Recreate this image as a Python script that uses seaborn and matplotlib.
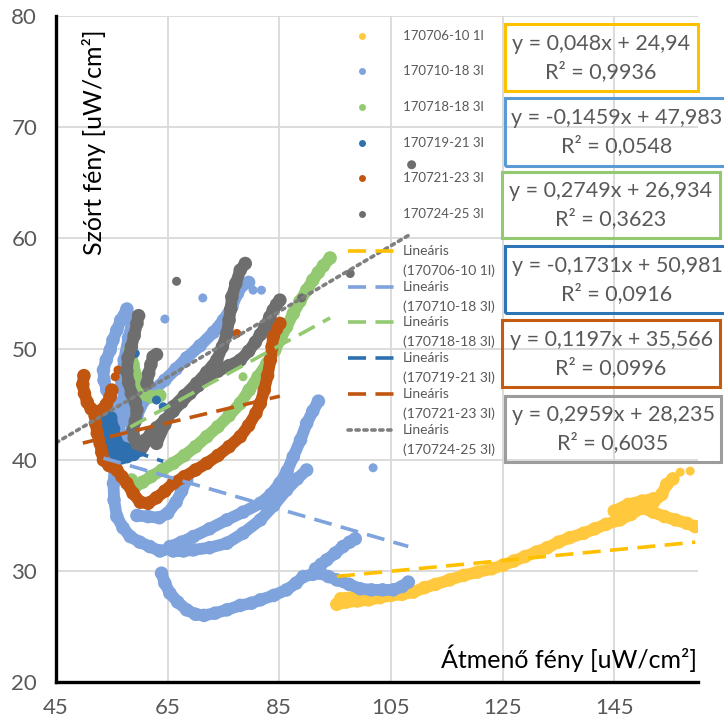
import numpy as np
import pandas as pd
import matplotlib
matplotlib.use("Agg")
import matplotlib.pyplot as plt
import seaborn as sns
from matplotlib.lines import Line2D
from matplotlib.patches import Rectangle
from matplotlib.ticker import FixedLocator, MultipleLocator

# ---------------------------------------------------------------------------
# Measurement series: transmitted light (x) vs. scattered light (y), uW/cm2.
# Each series is stored as a few continuous traces plus some stray readings.
# ---------------------------------------------------------------------------
labels = ["170706-10 1l", "170710-18 3l", "170718-18 3l",
          "170719-21 3l", "170721-23 3l", "170724-25 3l"]

# 170706-10 1l
s0706_a = [(95.3, 27.0), (97, 27.2), (99, 27.3), (101, 27.4), (103, 27.6), (105, 27.8),
           (107, 27.9), (109, 28.1), (111, 28.5), (113, 28.8), (115.5, 29.2), (118, 29.6),
           (120.5, 29.9), (123, 30.2), (125, 30.5), (127, 30.9), (129, 31.3), (131, 31.7),
           (133, 32.1), (135, 32.6), (137, 33.0), (139.5, 33.4), (141.5, 33.8), (143.5, 34.2),
           (146, 34.6), (148, 35.1), (150, 35.7), (152, 36.2), (153.5, 36.9), (154.4, 37.8),
           (155.5, 38.3)]
s0706_b = [(150, 35.7), (152, 35.3), (154, 34.9), (156, 34.6), (158, 34.3), (159.5, 34.0)]
s0706_c = [(145, 35.4), (147.5, 36.0), (150, 36.3), (152, 36.5)]
s0706_d = [(96, 27.5), (100, 27.8), (104, 28.1)]
s0706_pts = [(156.8, 38.9), (158.6, 39.0)]

# 170710-18 3l
s0710_a = [(57.7, 53.6), (56.6, 52.6), (55.9, 51.7), (55.2, 50.8), (54.7, 49.9), (54.0, 49.0),
           (53.5, 48.1), (53.6, 47.2), (54.1, 46.3), (55.0, 45.4), (55.9, 44.5), (56.3, 43.3),
           (56.5, 42.1), (56.2, 41.2), (55.9, 40.3), (55.5, 39.1), (55.3, 37.9), (55.4, 36.4),
           (55.9, 34.9), (57.0, 33.9), (58.3, 33.1), (60.0, 32.6), (61.8, 32.2), (63.6, 31.8),
           (65.4, 32.0)]
s0710_b = [(63.9, 29.8), (64.5, 28.9), (65.4, 28.0), (66.8, 27.2), (68.4, 26.5), (70.0, 26.1),
           (71.5, 26.0), (73.5, 26.2), (75.6, 26.5), (78.0, 26.9), (80.0, 27.1), (81.6, 27.4),
           (84.0, 27.8), (86.3, 28.3), (88.0, 28.9), (89.3, 29.5), (91.0, 29.7), (92.3, 29.8),
           (93.8, 29.5), (95.3, 29.2), (97.5, 28.8), (99.5, 28.4), (101.5, 28.3), (103.5, 28.3),
           (105.4, 28.3), (107.0, 28.6), (108.1, 29.0)]
s0710_c = [(91.5, 30.2), (92.5, 30.6), (93.5, 31.0), (95.0, 31.6), (96.4, 32.2), (97.6, 32.6),
           (98.6, 32.9)]
s0710_d = [(65.4, 32.2), (67.5, 32.6), (69.6, 33.1), (72.5, 33.8), (75.6, 34.6), (78.5, 35.3),
           (81.6, 36.1), (83.5, 36.9), (85.1, 37.9), (86.4, 39.0), (87.5, 40.3), (88.8, 41.8),
           (89.9, 43.3), (91.0, 44.4), (92.0, 45.3)]
s0710_e = [(66.0, 31.8), (67.8, 31.8), (69.6, 31.9), (72.5, 32.1), (75.6, 32.5), (78.5, 33.4),
           (81.6, 34.6), (84.0, 35.9), (86.3, 37.3), (88.2, 38.3), (89.9, 39.1)]
s0710_f = [(59.5, 35.0), (61.5, 34.9), (63.5, 34.8), (65.0, 35.2), (66.5, 36.2), (67.5, 37.2),
           (68.4, 38.2)]
s0710_g = [(57.5, 41.0), (58.5, 42.5), (59.5, 44.0), (60.8, 45.4), (62.5, 46.3), (64.5, 47.2),
           (66.5, 48.2), (68.4, 49.2), (70.8, 50.3), (73.2, 51.5), (75.0, 52.6), (76.5, 53.8),
           (77.5, 55.0), (78.5, 55.8), (79.5, 56.0)]
s0710_h = [(58.8, 52.8), (58.0, 51.0), (57.2, 49.0), (56.8, 47.0), (57.3, 45.0), (58.0, 43.5)]
s0710_pts = [(101.8, 39.3), (80.3, 55.3), (81.8, 55.3), (71.3, 54.6), (64.5, 52.7)]

# 170718-18 3l
s0718_a = [(58.5, 38.2), (59.0, 37.5), (60.5, 38.0), (62.0, 38.5), (64.0, 39.1), (66.0, 39.7),
           (68.0, 40.4), (70.0, 41.2), (72.0, 42.1), (74.0, 43.0), (76.0, 44.0), (78.0, 45.1),
           (79.6, 46.3), (81.2, 47.5), (82.8, 48.7), (84.2, 49.9), (85.3, 51.0), (86.3, 52.0),
           (87.5, 53.2), (88.7, 54.3), (89.9, 55.3), (91.0, 56.2), (92.0, 56.9), (92.9, 57.5),
           (94.1, 58.2)]
s0718_b = [(58.3, 49.9), (58.8, 48.6), (59.5, 47.4), (60.1, 46.3), (61.0, 45.9), (62.0, 45.7),
           (63.6, 45.8)]
s0718_pts = [(78.5, 47.5)]

# 170719-21 3l
s0719_a = [(53.8, 44.2), (54.1, 43.3), (54.4, 42.4), (54.7, 41.6), (55.0, 40.9), (55.8, 40.4),
           (56.8, 40.2), (57.7, 40.3), (58.9, 40.5), (60.1, 40.9), (60.6, 41.6)]
s0719_b = [(54.8, 43.8), (55.3, 42.8), (55.7, 41.8), (56.5, 41.2), (57.5, 41.0)]
s0719_pts = [(63.0, 45.4), (64.2, 44.8), (59.2, 49.6)]

# 170721-23 3l
s0721_a = [(50.0, 47.6), (49.8, 46.8), (50.1, 46.0), (50.6, 45.2), (51.3, 44.6), (52.2, 44.3),
           (53.2, 44.5), (54.0, 45.0), (54.7, 45.7), (55.0, 46.3)]
s0721_b = [(52.0, 44.0), (52.1, 43.3), (52.4, 42.4), (52.9, 41.5), (53.2, 40.7), (53.5, 40.0),
           (54.5, 39.5), (55.9, 39.1), (56.8, 38.5), (57.7, 37.9), (58.8, 37.0), (60.1, 36.2),
           (61.5, 36.1), (63.0, 36.6), (64.5, 37.2), (66.0, 37.9), (68.0, 38.5), (70.0, 39.1),
           (72.0, 39.7), (74.0, 40.4), (76.0, 41.2), (78.0, 42.1), (79.5, 43.1), (80.8, 44.2),
           (81.6, 45.1), (82.3, 46.3), (82.9, 47.6), (83.4, 49.0), (83.7, 50.2), (83.9, 51.1),
           (84.5, 51.8), (85.1, 52.3)]
s0721_pts = [(77.4, 51.4), (56.1, 48.1), (55.6, 47.5)]

# 170724-25 3l
s0724_a = [(59.8, 53.0), (59.5, 52.3), (59.0, 51.2), (58.5, 50.2), (57.9, 49.2), (57.7, 48.0),
           (58.0, 47.0), (58.5, 46.0), (59.2, 45.2), (59.5, 44.5), (59.2, 43.5), (58.8, 42.7),
           (59.0, 42.0), (59.5, 41.5), (60.5, 41.2), (61.5, 41.8)]
s0724_b = [(59.8, 41.2), (61.0, 41.8), (62.0, 42.4), (63.0, 42.9), (64.5, 43.6), (66.0, 44.4),
           (67.5, 45.2), (69.0, 46.0), (70.5, 46.7), (72.0, 47.4), (74.0, 48.0), (76.0, 48.5),
           (78.0, 49.0), (79.5, 49.8), (80.7, 50.6), (81.6, 51.3), (82.5, 52.1), (83.3, 52.9),
           (83.9, 53.5), (84.5, 54.0), (85.1, 54.4)]
s0724_c = [(63.0, 41.5), (64.5, 43.2), (66.0, 44.8), (68.0, 45.8), (70.2, 46.9), (72.0, 47.9),
           (73.8, 49.0), (74.8, 50.2), (75.6, 51.4), (76.0, 52.6), (76.3, 53.6), (76.5, 54.7),
           (77.2, 55.9), (78.0, 57.1), (78.9, 57.7)]
s0724_d = [(61.3, 46.9), (61.6, 47.8), (62.0, 48.6), (62.4, 49.3), (63.0, 49.5)]
s0724_pts = [(66.6, 56.1), (108.7, 66.6), (97.7, 56.8), (89.0, 54.6)]

# Linear trendline coefficients (slope, intercept) and R^2 values
slopes = [0.048, -0.1459, 0.2749, -0.1731, 0.1197, 0.2959]
intercepts = [24.94, 47.983, 26.934, 50.981, 35.566, 28.235]
r2_values = [0.9936, 0.0548, 0.3623, 0.0916, 0.0996, 0.6035]
backward_forecast = [0, 0, 0, 0, 0, 12.7]   # trendline extended to the left (x units)

x_ticks = [45, 65, 85, 105, 125, 145]
y_ticks = [20, 30, 40, 50, 60, 70, 80]

marker_colors = ["#FFC83D", "#7EA3DD", "#93C971", "#2E6FB0", "#C0560F", "#6E6E6E"]
trend_colors = ["#FFC000", "#7EA3DD", "#93C971", "#2E6FB0", "#C0560F", "#7F7F7F"]
box_colors = ["#FFC000", "#5B9BD5", "#93C971", "#2E75B6", "#C55A11", "#9C9C9C"]

traces = {
    labels[0]: ([s0706_a, s0706_b, s0706_c, s0706_d], s0706_pts),
    labels[1]: ([s0710_a, s0710_b, s0710_c, s0710_d, s0710_e, s0710_f, s0710_g, s0710_h], s0710_pts),
    labels[2]: ([s0718_a, s0718_b], s0718_pts),
    labels[3]: ([s0719_a, s0719_b], s0719_pts),
    labels[4]: ([s0721_a, s0721_b], s0721_pts),
    labels[5]: ([s0724_a, s0724_b, s0724_c, s0724_d], s0724_pts),
}

rows = []
for name, (branches, strays) in traces.items():
    for bi, br in enumerate(branches):
        for x, y in br:
            rows.append((name, f"{name}-{bi}", x, y, False))
    for x, y in strays:
        rows.append((name, f"{name}-p", x, y, True))
df = pd.DataFrame(rows, columns=["series", "branch", "x", "y", "stray"])

# ---------------------------------------------------------------------------
sns.set_theme(style="white")
plt.rcParams["font.family"] = ["Lato", "DejaVu Sans"]

W, H = 724, 723
fig = plt.figure(figsize=(W / 100, H / 100), dpi=100)
L, R, T, B = 56, 698, 16, 682
ax = fig.add_axes([L / W, 1 - B / H, (R - L) / W, (B - T) / H])


def fx(px):
    return px / W


def fy(py):
    return 1 - py / H


for i, name in enumerate(labels):
    d = df[df["series"] == name]
    lines = d[~d["stray"]]
    strays = d[d["stray"]]
    sns.lineplot(data=lines, x="x", y="y", units="branch", estimator=None, sort=False,
                 color=marker_colors[i], linewidth=8.5, solid_capstyle="round",
                 solid_joinstyle="round", ax=ax, legend=False, zorder=2 + i)
    sns.scatterplot(data=lines, x="x", y="y", color=marker_colors[i], s=95, edgecolor="none",
                    ax=ax, legend=False, zorder=2 + i)
    sns.scatterplot(data=strays, x="x", y="y", color=marker_colors[i], s=42, edgecolor="none",
                    ax=ax, legend=False, zorder=2 + i)

# Linear trendlines drawn over the fitted x-range of each series
trend_styles = [(0, (5, 2.6))] * 5 + [(0, (0.9, 1.3))]
for i, name in enumerate(labels):
    d = df[df["series"] == name]
    x0 = d["x"].min() - backward_forecast[i]
    x1 = d["x"].max()
    xs = np.array([x0, x1])
    ax.plot(xs, slopes[i] * xs + intercepts[i], color=trend_colors[i], lw=2.6,
            linestyle=trend_styles[i], dash_capstyle="butt" if i < 5 else "round",
            zorder=10)

ax.set_xlim(45, 160)
ax.set_ylim(20, 80)
ax.xaxis.set_major_locator(FixedLocator(x_ticks))
ax.xaxis.set_minor_locator(FixedLocator(np.arange(45, 161, 4)))
ax.yaxis.set_major_locator(FixedLocator(y_ticks))
ax.yaxis.set_minor_locator(MultipleLocator(2))

ax.grid(True, which="major", color="#D9D9D9", lw=1.3, zorder=0)
ax.set_axisbelow(True)
for side in ("top", "right"):
    ax.spines[side].set_visible(False)
for side in ("left", "bottom"):
    ax.spines[side].set_color("black")
    ax.spines[side].set_linewidth(2.4)
    ax.spines[side].set_zorder(20)

ax.tick_params(axis="both", which="major", direction="inout", length=11, width=2.2,
               color="black", labelcolor="#595959", labelsize=16)
ax.tick_params(axis="both", which="minor", direction="out", length=5, width=2,
               color="black")
ax.tick_params(axis="y", which="major", pad=8)
ax.tick_params(axis="x", which="major", pad=6)
ax.tick_params(axis="x", which="minor", length=4)

ax.set_xlabel("Átmenő fény [uW/cm²]", fontsize=18, color="black")
ax.set_ylabel("Szórt fény [uW/cm²]", fontsize=18, color="black")
ax.xaxis.set_label_coords((569 - L) / (R - L), (B - 645) / (B - T))
ax.yaxis.set_label_coords((106 - L) / (R - L), (B - 142) / (B - T))

# Legend: series markers
series_rows = [36, 71, 107, 143, 178, 214]
for i, name in enumerate(labels):
    fig.add_artist(Line2D([fx(362)], [fy(series_rows[i])], marker="o", markersize=5,
                          markeredgewidth=0, color=marker_colors[i], linestyle="none"))
    fig.text(fx(403), fy(series_rows[i]), name, fontsize=9.5, color="#595959",
             ha="left", va="center")

# Legend: linear trendlines
trend_rows = [251, 287, 322, 358, 394, 430]
for i, name in enumerate(labels):
    fig.add_artist(Line2D([fx(348), fx(395)], [fy(trend_rows[i])] * 2, color=trend_colors[i],
                          lw=2.6, linestyle=trend_styles[i],
                          dash_capstyle="butt" if i < 5 else "round"))
    fig.text(fx(403), fy(trend_rows[i]), "Lineáris", fontsize=10, color="#595959",
             ha="left", va="center")
    fig.text(fx(403), fy(trend_rows[i] + 20), f"({name})", fontsize=10, color="#595959",
             ha="left", va="center")

# Trendline equation boxes
boxes = [(505, 24, 698, 91), (505, 98, 745, 166), (502, 172, 720, 238),
         (505, 246, 745, 313), (502, 320, 720, 387), (505, 396, 721, 462)]
text_cx = [601, 617, 611, 617, 611, 613]


def fmt(v, nd=None):
    s = f"{v}" if nd is None else f"{v:.{nd}f}"
    return s.replace(".", ",")


for i in range(6):
    x0, y0, x1, y1 = boxes[i]
    fig.add_artist(Rectangle((fx(x0), fy(y1)), fx(x1) - fx(x0), fy(y0) - fy(y1),
                             transform=fig.transFigure, fill=False,
                             edgecolor=box_colors[i], lw=2.2))
    sign = "-" if slopes[i] < 0 else ""
    eq = f"y = {sign}{fmt(abs(slopes[i]))}x + {fmt(intercepts[i])}"
    r2 = f"R² = {fmt(r2_values[i], 4)}"
    cy = (y0 + y1) / 2
    fig.text(fx(text_cx[i]), fy(cy - 14), eq, fontsize=15.5, color="#595959",
             ha="center", va="center")
    fig.text(fx(text_cx[i]), fy(cy + 14), r2, fontsize=15.5, color="#595959",
             ha="center", va="center")

fig.savefig("out.png", dpi=100)
